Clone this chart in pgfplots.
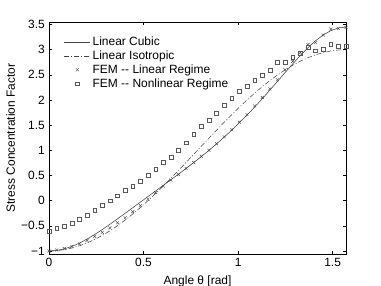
\documentclass[border=0pt]{standalone}
\usepackage{fontspec}
\setmainfont{Liberation Sans}
\usepackage{pgfplots}
\usepackage{pgfplotstable}
\pgfplotsset{compat=1.18}
\pgfplotstableread{
x cubic iso femlin femnl
0 -1.0000 -1.0000 -1.00 -0.61
0.0403 -0.9896 -0.9935 -0.98 -0.55
0.0805 -0.9588 -0.9741 -0.95 -0.51
0.1208 -0.9093 -0.9419 -0.91 -0.45
0.1611 -0.8431 -0.8970 -0.86 -0.37
0.2014 -0.7633 -0.8399 -0.79 -0.29
0.2417 -0.6725 -0.7709 -0.71 -0.19
0.2819 -0.5736 -0.6905 -0.63 -0.09
0.3222 -0.4690 -0.5993 -0.54 0.00
0.3625 -0.3611 -0.4970 -0.44 0.10
0.4028 -0.2508 -0.3855 -0.34 0.20
0.4430 -0.1403 -0.2649 -0.22 0.29
0.4833 -0.0293 -0.1361 -0.10 0.39
0.5236 0.0818 0.0000 0.03 0.51
0.5639 0.1927 0.1427 0.16 0.63
0.6042 0.3036 0.2908 0.29 0.77
0.6444 0.4143 0.4436 0.41 0.87
0.6847 0.5265 0.5999 0.52 1.00
0.7250 0.6407 0.7589 0.64 1.15
0.7653 0.7574 0.9195 0.76 1.32
0.8055 0.8755 1.0805 0.88 1.48
0.8458 0.9995 1.2411 1.00 1.60
0.8861 1.1280 1.4001 1.13 1.74
0.9264 1.2615 1.5564 1.27 1.90
0.9666 1.4010 1.7092 1.41 2.04
1.0069 1.5499 1.8573 1.56 2.18
1.0472 1.6994 2.0000 1.71 2.27
1.0875 1.8590 2.1361 1.88 2.39
1.1278 2.0244 2.2649 2.05 2.50
1.1680 2.1963 2.3855 2.22 2.60
1.2083 2.3688 2.4970 2.40 2.75
1.2486 2.5453 2.5993 2.60 2.75
1.2889 2.7172 2.6905 2.77 2.85
1.3291 2.8825 2.7709 2.94 2.93
1.3694 3.0383 2.8399 3.10 3.05
1.4097 3.1762 2.8970 3.14 2.98
1.4500 3.2914 2.9419 3.29 3.01
1.4903 3.3780 2.9741 3.41 3.11
1.5305 3.4319 2.9935 3.42 3.07
1.5708 3.4500 3.0000 3.44 3.07
}\data
\begin{document}
\fontsize{12}{14}\selectfont
\begin{tikzpicture}
\useasboundingbox (0,0) rectangle (381bp,286bp);
\begin{axis}[
  at={(49bp,32bp)}, anchor=south west,
  scale only axis,
  width=297bp, height=232bp,
  xmin=0, xmax=1.5708,
  ymin=-1.06, ymax=3.55,
  xtick={0,0.5,1,1.5},
  xticklabels={0,0.5,1,1.5},
  ytick={-1,-0.5,0,0.5,1,1.5,2,2.5,3,3.5},
  yticklabels={−1,−0.5,0,0.5,1,1.5,2,2.5,3,3.5},
  tick align=inside,
  major tick length=3bp,
  axis line style={line width=0.6pt},
  tick style={line width=0.5pt, black},
  xlabel={Angle θ [rad]},
  ylabel={Stress Concentration Factor},
  xlabel style={yshift=-1bp},
  ylabel style={yshift=-2bp},
  legend cell align=left,
  legend image code/.code={\draw[mark repeat=2,mark phase=2,#1] plot coordinates {(0cm,0cm) (0.46cm,0cm) (0.92cm,0cm)};},
  legend style={at={(0.04,0.955)}, anchor=north west, draw=none, fill=none,
    row sep=-0.5pt, font=\fontsize{12}{14}\selectfont},
]
\addplot[black!75, line width=0.55pt, no markers] table[x=x, y=cubic] {\data};
\addlegendentry{Linear Cubic}
\addplot[black!75, line width=0.5pt, no markers, dash pattern=on 5pt off 2pt on 1pt off 2pt] table[x=x, y=iso] {\data};
\addlegendentry{Linear Isotropic}
\addplot[black!70, only marks, mark=x, mark size=2.1bp, line width=0.45pt] table[x=x, y=femlin] {\data};
\addlegendentry{FEM -{}- Linear Regime}
\addplot[black!65, only marks, mark=square, mark size=1.9bp, line width=0.4pt] table[x=x, y=femnl] {\data};
\addlegendentry{FEM -{}- Nonlinear Regime}
\end{axis}
\end{tikzpicture}
\end{document}
